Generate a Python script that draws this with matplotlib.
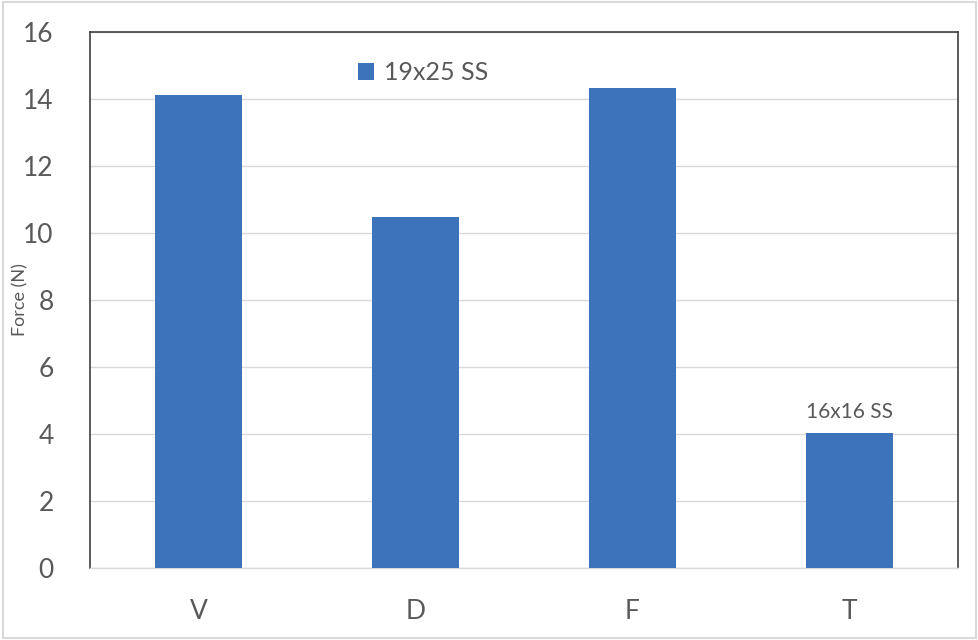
import matplotlib
matplotlib.use("Agg")
import matplotlib.pyplot as plt
from matplotlib.patches import Rectangle

categories = ["V", "D", "F", "T"]
values = [14.12, 10.48, 14.33, 4.02]
series_name = "19x25 SS"
annotation = "16x16 SS"
yticks = [0, 2, 4, 6, 8, 10, 12, 14, 16]

plt.rcParams['font.family'] = ['Lato', 'DejaVu Sans']
bar_color = "#3C73BA"
text_color = "#595959"

fig = plt.figure(figsize=(9.79, 6.40), dpi=100)
ax = fig.add_axes([90/979, 1 - 568/640, (958-90)/979, (568-32)/640])

x = list(range(len(categories)))
ax.bar(x, values, width=0.4, color=bar_color, zorder=3, label=series_name)
ax.set_xlim(-0.5, len(categories) - 0.5)
ax.set_ylim(0, 16)
ax.set_yticks(yticks)
ax.set_xticks(x)
ax.set_xticklabels(categories)
ax.grid(axis='y', color='#D9D9D9', linewidth=1, zorder=0)
ax.tick_params(axis='both', length=0, labelsize=19, colors=text_color)
ax.tick_params(axis='x', pad=22)
ax.tick_params(axis='y', pad=26)
for s in ['left', 'right', 'top']:
    ax.spines[s].set_color('#404040')
    ax.spines[s].set_linewidth(1.2)
ax.spines['bottom'].set_color('#D9D9D9')
ax.spines['bottom'].set_linewidth(1)

fig.text(20/979, 1 - 300/640, "Force (N)", rotation=90, ha='center', va='center',
         fontsize=13, color=text_color)

leg = ax.legend(loc='upper left', bbox_to_anchor=((335-90)/868, 1 - (39-32)/536),
                frameon=False, fontsize=18, handlelength=0.65, handleheight=0.65,
                handletextpad=0.4, labelcolor=text_color)

ax.text(x[3], values[3] + 0.35, annotation, ha='center', va='bottom',
        fontsize=15, color=text_color)

fig.patches.append(Rectangle((3/979, 2/640), 1 - 6/979, 1 - 4/640, transform=fig.transFigure,
                             fill=False, edgecolor='#D9D9D9', linewidth=1.5))

fig.savefig("out.png", dpi=100)
